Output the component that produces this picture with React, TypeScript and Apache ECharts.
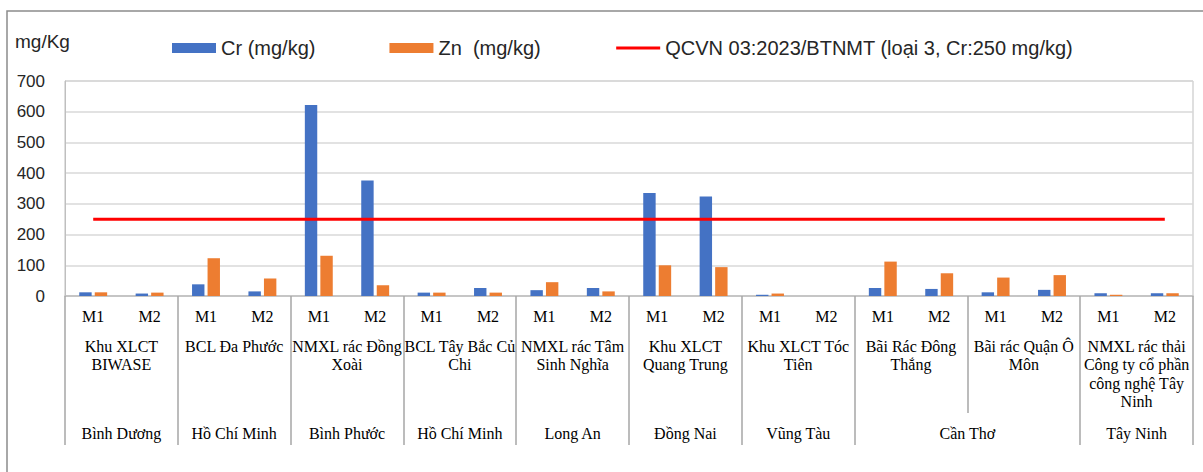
import React, { useEffect, useRef } from "react";
import * as echarts from "echarts";

const samples = ["M1","M2","M1","M2","M1","M2","M1","M2","M1","M2","M1","M2","M1","M2","M1","M2","M1","M2","M1","M2"];
const locations = [
  "Khu XLCT\nBIWASE",
  "BCL Đa Phước",
  "NMXL rác Đồng\nXoài",
  "BCL Tây Bắc Củ\nChi",
  "NMXL rác Tâm\nSinh Nghĩa",
  "Khu XLCT\nQuang Trung",
  "Khu XLCT Tóc\nTiên",
  "Bãi Rác Đông\nThắng",
  "Bãi rác Quận Ô\nMôn",
  "NMXL rác thải\nCông ty cổ phần\ncông nghệ Tây\nNinh",
];
// province name and its centre, in sample-slot units (0..20)
const provinces = ["Bình Dương","Hồ Chí Minh","Bình Phước","Hồ Chí Minh","Long An","Đồng Nai","Vũng Tàu","Cần Thơ","Tây Ninh"];
const provinceSlots = [1, 3, 5, 7, 9, 11, 13, 16, 19];
const crValues = [12, 8, 38, 15, 622, 376, 11, 26, 19, 26, 335, 324, 4, 0, 26, 23, 12, 20, 9, 9];
const znValues = [12, 11, 123, 57, 131, 35, 11, 11, 45, 15, 100, 94, 8, 0, 112, 74, 60, 68, 4, 9];
const limitValue = 250;
const yTicks = [0, 700, 100];

const seriesNames = ["Cr (mg/kg)", "Zn  (mg/kg)", "QCVN 03:2023/BTNMT (loại 3, Cr:250 mg/kg)"];

export default function App() {
  const ref = useRef<HTMLDivElement>(null);
  useEffect(() => {
    if (!ref.current) return;
    const chart = echarts.init(ref.current, null, { renderer: "svg" });
    const slots = Array.from({ length: 21 }, (_, i) => String(i));
    const locLabel = (i: number) => (i % 2 === 1 ? locations[(i - 1) / 2] : "");
    const provLabel = (i: number) => {
      const k = provinceSlots.indexOf(i);
      return k >= 0 ? provinces[k] : "";
    };
    const serif = "'Liberation Serif', 'Times New Roman', serif";
    const sans = "'Liberation Sans', Arial, sans-serif";
    const sepColor = "#a6a6a6";
    chart.setOption({
      animation: false,
      backgroundColor: "#ffffff",
      grid: { left: 65, top: 81, width: 1128, height: 215, show: true, borderColor: "#bfbfbf", borderWidth: 1 },
      legend: {
        left: 172,
        top: 38,
        padding: 0,
        itemWidth: 44,
        itemHeight: 10,
        itemGap: 74,
        textStyle: { fontFamily: sans, fontSize: 20, color: "#262626" },
        data: [
          { name: seriesNames[0], icon: "rect" },
          { name: seriesNames[1], icon: "rect" },
          { name: seriesNames[2], itemStyle: { opacity: 0 }, lineStyle: { color: "#ff0000", width: 3 } },
        ],
      },
      graphic: [
        { type: "rect", shape: { x: 7, y: 11, width: 1230, height: 490 }, style: { fill: "none", stroke: "#8c8c8c", lineWidth: 1.5 }, silent: true },
        { type: "text", x: 15, y: 41, style: { text: "mg/Kg", fontFamily: sans, fontSize: 19, fill: "#262626", verticalAlign: "middle" } },
      ],
      xAxis: [
        {
          type: "category",
          data: samples,
          axisLine: { lineStyle: { color: "#bfbfbf", width: 1.5 } },
          axisTick: { show: false },
          axisLabel: { interval: 0, margin: 12, fontFamily: serif, fontSize: 16, color: "#000" },
        },
        {
          type: "category",
          data: slots,
          boundaryGap: false,
          position: "bottom",
          axisLine: { show: false },
          axisTick: { show: true, interval: (i: number) => i === 16, length: 117, lineStyle: { color: sepColor, width: 1.5 } },
          axisLabel: {
            interval: 0, margin: 41, fontFamily: serif, fontSize: 16, color: "#000", lineHeight: 18.5,
            formatter: (_v: string, i: number) => locLabel(i),
          },
        },
        {
          type: "category",
          data: slots,
          boundaryGap: false,
          position: "bottom",
          axisLine: { show: false },
          axisTick: { show: true, interval: (i: number) => i % 2 === 0 && i !== 16, length: 149, lineStyle: { color: sepColor, width: 1.5 } },
          axisLabel: {
            interval: 0, margin: 129, fontFamily: serif, fontSize: 16, color: "#000",
            formatter: (_v: string, i: number) => provLabel(i),
          },
        },
      ],
      yAxis: {
        type: "value",
        min: yTicks[0],
        max: yTicks[1],
        interval: yTicks[2],
        axisLine: { show: true, lineStyle: { color: "#bfbfbf", width: 1 } },
        axisTick: { show: false },
        splitLine: { lineStyle: { color: "#d9d9d9", width: 1.5 } },
        axisLabel: { margin: 20, fontFamily: sans, fontSize: 17, color: "#262626" },
      },
      series: [
        {
          name: seriesNames[0], type: "bar", xAxisIndex: 0, data: crValues,
          barWidth: "22%", barGap: "25%",
          itemStyle: { color: "#4472c4" },
        },
        {
          name: seriesNames[1], type: "bar", xAxisIndex: 0, data: znValues,
          barWidth: "22%", barGap: "25%",
          itemStyle: { color: "#ed7d31" },
        },
        {
          name: seriesNames[2], type: "line", xAxisIndex: 0,
          data: samples.map(() => limitValue),
          symbol: "none",
          lineStyle: { color: "#ff0000", width: 3 },
          itemStyle: { color: "#ff0000" },
          z: 5,
        },
      ],
    });
    return () => chart.dispose();
  }, []);
  return <div ref={ref} style={{ position: "fixed", left: 0, top: 0, width: 1203, height: 472 }} />;
}
